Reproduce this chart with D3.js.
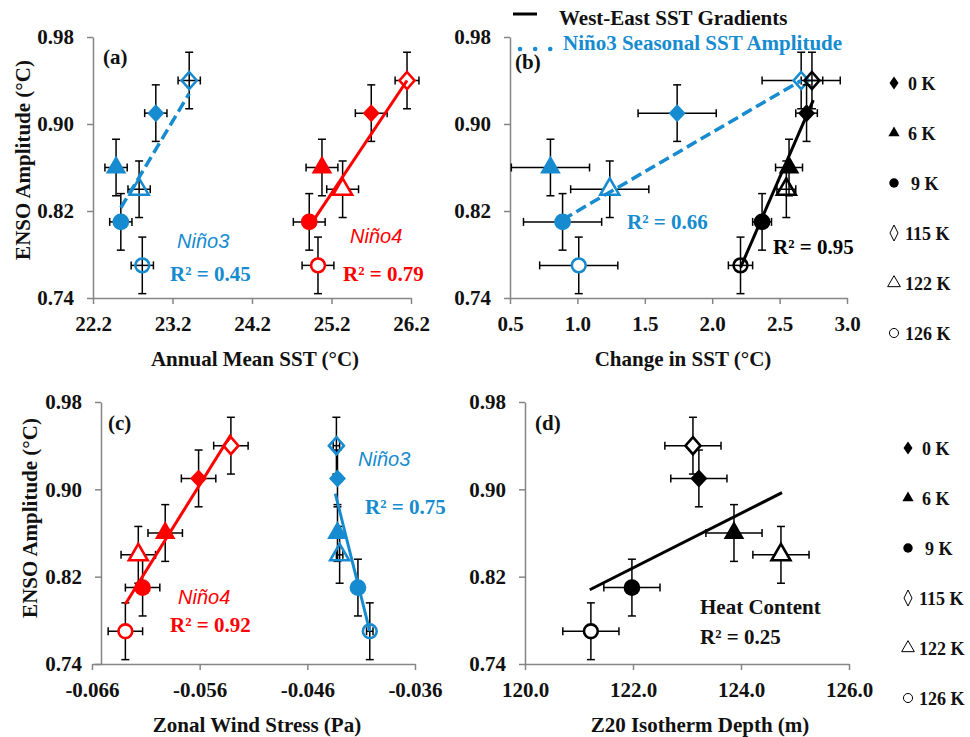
<!doctype html>
<html lang="en">
<head>
<meta charset="UTF-8">
<title>ENSO amplitude vs mean state</title>
<script src="https://cdnjs.cloudflare.com/ajax/libs/d3/7.8.5/d3.min.js"></script>
<style>
body { margin: 0; background: #fff; }
svg text { font-family: "Liberation Serif", "Times New Roman", serif; font-weight: bold; fill: #111; }
.tick text { font-size: 21px; }
.axis path, .axis line { stroke: #858585; stroke-width: 1.5; }
</style>
</head>
<body>
<script>

// runs (legend order)
var runs = ["0 K", "6 K", "9 K", "115 K", "122 K", "126 K"];

// ENSO amplitude (same y for every panel)
var ensoAmp = [0.91, 0.86, 0.81, 0.94, 0.84, 0.77];
var ensoErr = [0.026, 0.026, 0.026, 0.026, 0.026, 0.026];

// (a) annual mean SST
var sstNino3 = [22.99, 22.49, 22.55, 23.41, 22.78, 22.82];
var sstNino3Err = [0.14, 0.14, 0.14, 0.14, 0.14, 0.14];
var sstNino4 = [25.70, 25.08, 24.92, 26.15, 25.34, 25.03];
var sstNino4Err = [0.2, 0.2, 0.2, 0.15, 0.2, 0.2];

// (b) change in SST
var gradChange = [2.70, 2.57, 2.37, 2.74, 2.55, 2.21];
var gradChangeErr = [0.08, 0.1, 0.07, 0.08, 0.07, 0.09];
var seasChange = [1.74, 0.80, 0.89, 2.66, 1.24, 1.01];
var seasChangeErr = [0.29, 0.29, 0.29, 0.29, 0.29, 0.29];

// (c) zonal wind stress
var tauNino4 = [-0.0561, -0.0592, -0.0613, -0.0531, -0.0617, -0.0629];
var tauNino4Err = [0.0016, 0.0016, 0.0016, 0.0016, 0.0016, 0.0016];
var tauNino3 = [-0.0432, -0.0432, -0.0413, -0.0433, -0.0430, -0.0402];
var tauNino3Err = [0.0003, 0.0003, 0.0003, 0.0003, 0.0003, 0.0003];

// (d) Z20 depth
var z20 = [123.22, 123.87, 121.98, 123.11, 124.74, 121.22];
var z20Err = [0.52, 0.52, 0.52, 0.52, 0.52, 0.52];

// trend lines, [start, end] as [x, y]
var trendA3 = [[22.55, 0.823], [23.41, 0.928]];
var trendA4 = [[24.98, 0.812], [26.15, 0.940]];
var trendBseas = [[0.89, 0.812], [2.66, 0.940]];
var trendBgrad = [[2.21, 0.768], [2.75, 0.922]];
var trendC4 = [[-0.0629, 0.795], [-0.0531, 0.950]];
var trendC3 = [[-0.0434, 0.896], [-0.0402, 0.770]];
var trendD = [[121.2, 0.808], [124.76, 0.897]];

// ticks
var yTicks = [0.74, 0.82, 0.90, 0.98];
var sstTicks = [22.2, 23.2, 24.2, 25.2, 26.2];
var changeTicks = [0.5, 1.0, 1.5, 2.0, 2.5, 3.0];
var tauTicks = [-0.066, -0.056, -0.046, -0.036];
var z20Ticks = [120, 122, 124, 126];

var BLUE = "#168bcf", RED = "#ff0000", BLACK = "#000";
var shapes = ["diamond", "triangle", "circle", "diamond", "triangle", "circle"];
var filled = [true, true, true, false, false, false];

var svg = d3.select("body").append("svg")
  .attr("width", 970).attr("height", 737)
  .style("background", "#fff");

function diamond(hw, hh) {
  return {
    draw: function(ctx) {
      ctx.moveTo(0, -hh); ctx.lineTo(hw, 0); ctx.lineTo(0, hh); ctx.lineTo(-hw, 0); ctx.closePath();
    }
  };
}

// marker shapes on the plots
function markerPath(i) {
  var k = shapes[i];
  if (k == "diamond") return filled[i] ? d3.symbol().type(diamond(8.5, 9))() : d3.symbol().type(diamond(7.5, 8.5))();
  if (k == "triangle") return d3.symbol().type(d3.symbolTriangle).size(filled[i] ? 185 : 155)();
  return d3.symbol().type(d3.symbolCircle).size(filled[i] ? 220 : 150)();
}

// small symbols of the run legend
function legendPath(i) {
  var k = shapes[i];
  if (k == "diamond") return filled[i] ? d3.symbol().type(diamond(4.5, 6.5))() : d3.symbol().type(diamond(4, 8))();
  if (k == "triangle") return d3.symbol().type(d3.symbolTriangle).size(filled[i] ? 55 : 70)();
  return d3.symbol().type(d3.symbolCircle).size(filled[i] ? 70 : 65)();
}

var dash = function(f) { return function(d) { return f(d).replace("\u2212", "-"); }; };

function panel(o) {
  var x = d3.scaleLinear().domain(o.xDomain).range([o.left, o.right]);
  var y = d3.scaleLinear().domain([0.74, 0.98]).range([o.bottom, o.top]);
  var g = svg.append("g");
  g.append("g").attr("class", "axis")
    .attr("transform", "translate(0," + o.bottom + ")")
    .call(d3.axisBottom(x).tickValues(o.xTicks).tickFormat(o.fmt).tickSize(6).tickSizeOuter(0).tickPadding(12));
  g.append("g").attr("class", "axis")
    .attr("transform", "translate(" + (o.yAxisX || o.left) + ",0)")
    .call(d3.axisLeft(y).tickValues(yTicks).tickFormat(d3.format(".2f")).tickSize(6).tickSizeOuter(0).tickPadding(13));
  return { g: g, x: x, y: y };
}

function series(p, xs, xerr, color, hollowFill) {
  var g = p.g.append("g");
  xs.forEach(function(v, i) {
    var cx = p.x(v), cy = p.y(ensoAmp[i]);
    var y1 = p.y(ensoAmp[i] + ensoErr[i]), y2 = p.y(ensoAmp[i] - ensoErr[i]);
    var x1 = p.x(v - xerr[i]), x2 = p.x(v + xerr[i]);
    var eb = g.append("g").attr("stroke", "#000").attr("stroke-width", 1.5);
    eb.append("line").attr("x1", cx).attr("x2", cx).attr("y1", y1).attr("y2", y2);
    eb.append("line").attr("x1", cx - 4).attr("x2", cx + 4).attr("y1", y1).attr("y2", y1);
    eb.append("line").attr("x1", cx - 4).attr("x2", cx + 4).attr("y1", y2).attr("y2", y2);
    eb.append("line").attr("x1", x1).attr("x2", x2).attr("y1", cy).attr("y2", cy);
    eb.append("line").attr("x1", x1).attr("x2", x1).attr("y1", cy - 4).attr("y2", cy + 4);
    eb.append("line").attr("x1", x2).attr("x2", x2).attr("y1", cy - 4).attr("y2", cy + 4);
  });
  xs.forEach(function(v, i) {
    var path = g.append("path")
      .attr("d", markerPath(i))
      .attr("transform", "translate(" + p.x(v) + "," + p.y(ensoAmp[i]) + ")");
    if (filled[i]) path.attr("fill", color);
    else path.attr("fill", hollowFill).attr("stroke", color).attr("stroke-width", 2.6);
  });
}

function trend(p, pts, color, dashed) {
  p.g.append("line")
    .attr("x1", p.x(pts[0][0])).attr("y1", p.y(pts[0][1]))
    .attr("x2", p.x(pts[1][0])).attr("y2", p.y(pts[1][1]))
    .attr("stroke", color).attr("stroke-width", dashed ? 3.5 : 3)
    .attr("stroke-dasharray", dashed ? "11,5" : null);
}

function label(txt, x, y, color, size, italic) {
  var t = svg.append("text").attr("x", x).attr("y", y).text(txt)
    .style("font-size", (size || 21) + "px").style("fill", color || "#111");
  if (italic) t.style("font-family", "'Liberation Sans', Arial, sans-serif")
    .style("font-weight", "normal").style("font-style", "italic");
  return t;
}

function yTitle(x, y) {
  svg.append("text").attr("transform", "translate(" + x + "," + y + ") rotate(-90)")
    .attr("text-anchor", "middle").style("font-size", "21px").text("ENSO Amplitude (°C)");
}

function xTitle(txt, x, y) {
  svg.append("text").attr("x", x).attr("y", y).attr("text-anchor", "middle")
    .style("font-size", "21px").text(txt);
}

// (a)
var pa = panel({ xDomain: [22.2, 26.2], left: 93, right: 411, top: 37, bottom: 298, xTicks: sstTicks, fmt: d3.format(".1f") });
series(pa, sstNino3, sstNino3Err, BLUE, "none");
series(pa, sstNino4, sstNino4Err, RED, "#fff");
trend(pa, trendA3, BLUE, true);
trend(pa, trendA4, RED, false);
label("(a)", 103, 64);
label("Niño3", 177, 248, BLUE, 20, true);
label("R² = 0.45", 170, 281, BLUE);
label("Niño4", 350, 243, RED, 20, true);
label("R² = 0.79", 343, 281, RED);
yTitle(30, 160);
xTitle("Annual Mean SST (°C)", 255, 366);

// (b)
var pb = panel({ xDomain: [0.5, 3.0], left: 510, right: 847, top: 37, bottom: 298, xTicks: changeTicks, fmt: d3.format(".1f") });
series(pb, seasChange, seasChangeErr, BLUE, "#fff");
series(pb, gradChange, gradChangeErr, BLACK, "none");
trend(pb, trendBseas, BLUE, true);
trend(pb, trendBgrad, BLACK, false);
label("(b)", 515, 69);
label("R² = 0.66", 627, 229, BLUE);
label("R² = 0.95", 773, 254, BLACK);
xTitle("Change in SST (°C)", 683, 366);

// legend of (b)
svg.append("line").attr("x1", 513).attr("x2", 537).attr("y1", 14).attr("y2", 14)
  .attr("stroke", "#000").attr("stroke-width", 3);
label("West-East SST Gradients", 559, 25);
svg.append("line").attr("x1", 520).attr("x2", 551).attr("y1", 49).attr("y2", 49)
  .attr("stroke", BLUE).attr("stroke-width", 4.5).attr("stroke-dasharray", "0.1,15").attr("stroke-linecap", "round");
label("Niño3 Seasonal SST Amplitude", 563, 50, BLUE);

// (c)
var pc = panel({ xDomain: [-0.066, -0.036], left: 92, right: 415, top: 402, bottom: 664, yAxisX: 101, xTicks: tauTicks, fmt: dash(d3.format(".3f")) });
series(pc, tauNino4, tauNino4Err, RED, "#fff");
series(pc, tauNino3, tauNino3Err, BLUE, "none");
trend(pc, trendC4, RED, false);
trend(pc, trendC3, BLUE, false);
label("(c)", 108, 430);
label("Niño4", 178, 604, RED, 20, true);
label("R² = 0.92", 170, 632, RED);
label("Niño3", 358, 466, BLUE, 20, true);
label("R² = 0.75", 365, 514, BLUE);
yTitle(37, 518);
xTitle("Zonal Wind Stress (Pa)", 257, 732);

// (d)
var pd = panel({ xDomain: [120, 126], left: 525, right: 849, top: 402, bottom: 664, xTicks: z20Ticks, fmt: d3.format(".1f") });
series(pd, z20, z20Err, BLACK, "#fff");
trend(pd, trendD, BLACK, false);
label("(d)", 535, 430);
label("Heat Content", 700, 614);
label("R² = 0.25", 700, 644);
xTitle("Z20 Isotherm Depth (m)", 700, 732);

// run legends on the right
function runLegend(mx, top) {
  runs.forEach(function(r, i) {
    var cy = top + i * 50;
    var m = svg.append("path").attr("d", legendPath(i))
      .attr("transform", "translate(" + mx + "," + cy + ")");
    if (filled[i]) m.attr("fill", "#000");
    else m.attr("fill", "none").attr("stroke", "#000").attr("stroke-width", 1);
    label(r, mx + (r == "9 K" ? 17 : r.length > 3 ? 11 : 14), cy + 7, "#111", 18);
  });
}
runLegend(894, 83);
runLegend(908, 448);

</script>
</body>
</html>
